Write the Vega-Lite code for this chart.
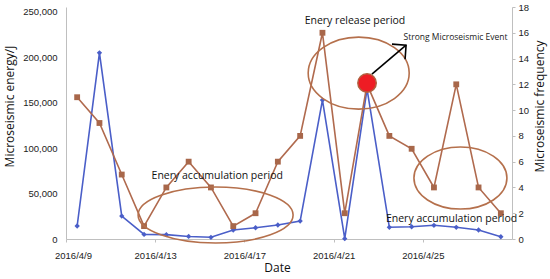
{
  "$schema": "https://vega.github.io/schema/vega-lite/v6.json",
  "width": 446,
  "height": 232,
  "autosize": {"type": "none"},
  "padding": {"left": 66, "top": 7, "right": 38, "bottom": 40},
  "background": "white",
  "config": {
    "view": {"stroke": null},
    "axis": {
      "grid": false,
      "domainColor": "#bfbfbf",
      "tickColor": "#bfbfbf",
      "labelFont": "Liberation Sans",
      "labelFontSize": 9.5,
      "labelColor": "#222222",
      "titleFont": "Open Sans",
      "titleFontSize": 12,
      "titleFontWeight": "normal",
      "titleColor": "#111111"
    }
  },
  "datasets": {
    "series": [
      {"date": "2016/04/09", "energy": 14300, "freq": 11},
      {"date": "2016/04/10", "energy": 205000, "freq": 9},
      {"date": "2016/04/11", "energy": 25300, "freq": 5},
      {"date": "2016/04/12", "energy": 5000, "freq": 1},
      {"date": "2016/04/13", "energy": 4800, "freq": 4},
      {"date": "2016/04/14", "energy": 2800, "freq": 6},
      {"date": "2016/04/15", "energy": 1900, "freq": 4},
      {"date": "2016/04/16", "energy": 9900, "freq": 1},
      {"date": "2016/04/17", "energy": 12400, "freq": 2},
      {"date": "2016/04/18", "energy": 15400, "freq": 6},
      {"date": "2016/04/19", "energy": 19800, "freq": 8},
      {"date": "2016/04/20", "energy": 153000, "freq": 16},
      {"date": "2016/04/21", "energy": 300, "freq": 2},
      {"date": "2016/04/22", "energy": 165000, "freq": 12},
      {"date": "2016/04/23", "energy": 12900, "freq": 8},
      {"date": "2016/04/24", "energy": 13500, "freq": 7},
      {"date": "2016/04/25", "energy": 15100, "freq": 4},
      {"date": "2016/04/26", "energy": 12900, "freq": 12},
      {"date": "2016/04/27", "energy": 9900, "freq": 4},
      {"date": "2016/04/28", "energy": 2500, "freq": 2}
    ],
    "ellipse1": [{"date": "2016/04/15 05:00", "freq": 1.86}],
    "ellipse2": [{"date": "2016/04/21 15:00", "freq": 12.87}],
    "ellipse3": [{"date": "2016/04/26 04:30", "freq": 4.73}],
    "event": [{"date": "2016/04/22", "freq": 12.1}],
    "arrow": [{"date": "2016/04/22 05:15", "freq": 12.8, "date2": "2016/04/23 18:00", "freq2": 15.04}],
    "arrowhead": [{"date": "2016/04/23 18:00", "freq": 15.04}],
    "notes": [
      {"date": "2016/04/15 06:45", "freq": 4.88, "label": "Enery accumulation period"},
      {"date": "2016/04/21 11:00", "freq": 16.9, "label": "Enery release period"},
      {"date": "2016/04/25 19:00", "freq": 1.55, "label": "Enery accumulation period"}
    ],
    "smallnote": [{"date": "2016/04/25 23:15", "freq": 15.66, "label": "Strong Microseismic Event"}]
  },
  "encoding": {
    "x": {
      "field": "date",
      "type": "temporal",
      "scale": {"domain": [{"year": 2016, "month": 4, "date": 8, "hours": 12}, {"year": 2016, "month": 4, "date": 28, "hours": 12}]},
      "axis": {
        "title": "Date",
        "values": [
          {"year": 2016, "month": 4, "date": 9},
          {"year": 2016, "month": 4, "date": 13},
          {"year": 2016, "month": 4, "date": 17},
          {"year": 2016, "month": 4, "date": 21},
          {"year": 2016, "month": 4, "date": 25}
        ],
        "format": "%Y/%-m/%-d",
        "tickOffset": -11.15,
        "tickSize": 3,
        "labelPadding": 8,
        "labelFlush": false,
        "labelOverlap": false,
        "labelOffset": {"condition": {"test": "date(datum.value) == 9", "value": 7}, "value": 0},
        "titlePadding": 3,
        "titleX": 211
      }
    }
  },
  "layer": [
    {
      "data": {"name": "series"},
      "encoding": {
        "y": {
          "field": "energy",
          "type": "quantitative",
          "scale": {"domain": [0, 255500], "nice": false},
          "axis": {
            "title": "Microseismic energy/J",
            "values": [0, 50000, 100000, 150000, 200000, 250000],
            "format": ",d",
            "ticks": false,
            "tickSize": 0,
            "labelPadding": 9,
            "titlePadding": 6,
            "titleY": 99
          }
        }
      },
      "layer": [
        {"mark": {"type": "line", "color": "#4a5ec8", "strokeWidth": 1.6}},
        {"mark": {"type": "point", "shape": "diamond", "filled": true, "size": 28, "color": "#4a5ec8", "opacity": 1}}
      ]
    },
    {
      "encoding": {
        "y": {
          "field": "freq",
          "type": "quantitative",
          "scale": {"domain": [0, 18], "nice": false},
          "axis": {
            "orient": "right",
            "title": "Microseismic frequency",
            "values": [0, 2, 4, 6, 8, 10, 12, 14, 16, 18],
            "tickSize": 3,
            "labelPadding": 3,
            "titleAngle": 270,
            "titleBaseline": "top",
            "titlePadding": 6,
            "titleY": 99
          }
        }
      },
      "layer": [
        {
          "data": {"name": "series"},
          "mark": {"type": "line", "color": "#b06a4e", "strokeWidth": 1.6}
        },
        {
          "data": {"name": "series"},
          "mark": {"type": "point", "shape": "square", "filled": true, "size": 34, "color": "#a8674a", "opacity": 1}
        },
        {
          "data": {"name": "ellipse1"},
          "mark": {"type": "point", "shape": "M-1,0A1,0.361,0,1,1,1,0A1,0.361,0,1,1,-1,0Z", "size": 24025, "filled": false, "stroke": "#b5704c", "strokeWidth": 1.6, "opacity": 1}
        },
        {
          "data": {"name": "ellipse2"},
          "mark": {"type": "point", "shape": "M-1,0A1,0.713,0,1,1,1,0A1,0.713,0,1,1,-1,0Z", "size": 10201, "filled": false, "stroke": "#b5704c", "strokeWidth": 1.6, "opacity": 1}
        },
        {
          "data": {"name": "ellipse3"},
          "mark": {"type": "point", "shape": "M-1,0A1,0.667,0,1,1,1,0A1,0.667,0,1,1,-1,0Z", "size": 8649, "filled": false, "stroke": "#b5704c", "strokeWidth": 1.6, "opacity": 1}
        },
        {
          "data": {"name": "arrow"},
          "mark": {"type": "rule", "color": "#000000", "strokeWidth": 1.6},
          "encoding": {
            "x2": {"field": "date2"},
            "y2": {"field": "freq2"}
          }
        },
        {
          "data": {"name": "arrowhead"},
          "mark": {"type": "point", "shape": "M-1,-1L0,0L-1,1", "size": 400, "angle": 319, "filled": false, "stroke": "#000000", "strokeWidth": 1.6, "opacity": 1}
        },
        {
          "data": {"name": "event"},
          "mark": {"type": "point", "shape": "circle", "size": 340, "filled": true, "fill": "#ee1c24", "stroke": "#b0603f", "strokeWidth": 1.5, "opacity": 1, "fillOpacity": 1}
        },
        {
          "data": {"name": "notes"},
          "mark": {"type": "text", "font": "Open Sans", "fontSize": 10.5, "color": "#111111", "align": "center", "baseline": "middle"},
          "encoding": {"text": {"field": "label"}}
        },
        {
          "data": {"name": "smallnote"},
          "mark": {"type": "text", "font": "Open Sans", "fontSize": 8.5, "color": "#222222", "align": "center", "baseline": "middle"},
          "encoding": {"text": {"field": "label"}}
        }
      ]
    }
  ],
  "resolve": {"scale": {"y": "independent"}, "axis": {"y": "independent"}}
}
